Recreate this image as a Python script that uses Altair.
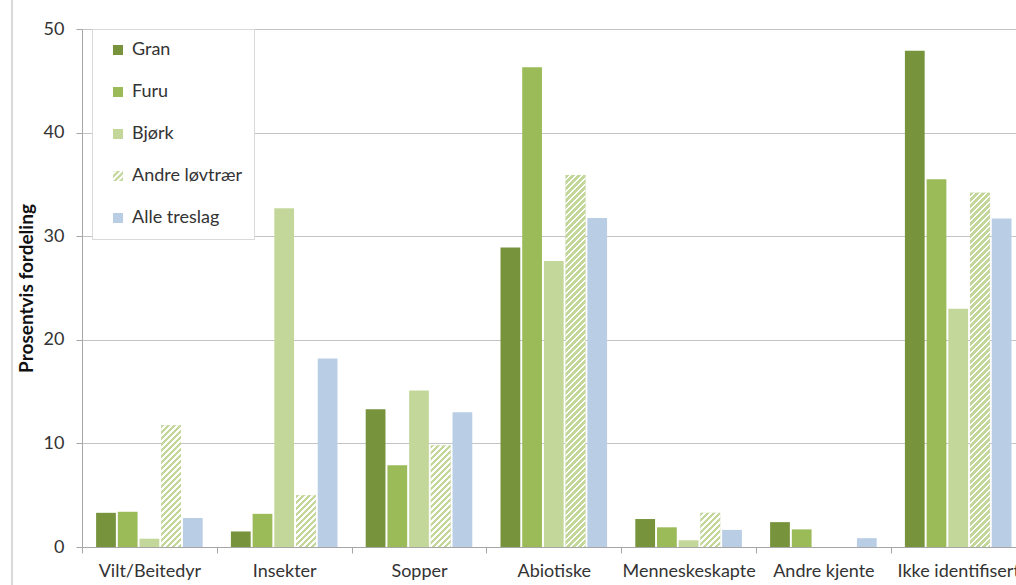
import altair as alt
import pandas as pd

# Skadeårsak per treslag (prosentvis fordeling)
categories = ["Vilt/Beitedyr", "Insekter", "Sopper", "Abiotiske",
              "Menneskeskapte", "Andre kjente", "Ikke identifisert"]
series = ["Gran", "Furu", "Bjørk", "Andre løvtrær", "Alle treslag"]

gran = [3.3, 1.5, 13.3, 28.9, 2.7, 2.4, 47.9]
furu = [3.4, 3.2, 7.9, 46.3, 1.9, 1.7, 35.5]
bjork = [0.8, 32.7, 15.1, 27.6, 0.65, 0.0, 23.0]
andre = [11.75, 5.0, 9.8, 35.9, 3.3, 0.0, 34.2]
alle = [2.8, 18.2, 13.0, 31.75, 1.65, 0.85, 31.7]

colors = ["#77933c", "#9bbb59", "#c4d79b", "#c4d79b", "#b9cde5"]
HATCHED = "Andre løvtrær"

rows = []
for name, vals in zip(series, [gran, furu, bjork, andre, alle]):
    for cat, v in zip(categories, vals):
        rows.append({"kategori": cat, "treslag": name, "andel": v})
df = pd.DataFrame(rows)

# Layout (pixels)
PLOT_W = 934          # visible part of the plot area
BAND = 134.8          # width of one category band
PLOT_H = 518
FONT = "Lato"
FS = 18
TXT = "#333333"
AXIS_GREY = "#a6a6a6"

# Diagonal hatch for bars: a striped linear gradient whose vector is chosen per
# mark so that stripes stay at 45 degrees with a constant pixel period.
PERIOD = 6.0
FILL_FRAC = 0.55
N_STRIPES = 100
SPAN = PERIOD * N_STRIPES
stops = []
for i in range(N_STRIPES):
    a = round(i / N_STRIPES, 5)
    b = round((i + FILL_FRAC) / N_STRIPES, 5)
    c = round((i + 1) / N_STRIPES, 5)
    stops += [
        {"offset": a, "color": "#c4d79b"},
        {"offset": b, "color": "#c4d79b"},
        {"offset": b, "color": "#ffffff"},
        {"offset": c, "color": "#ffffff"},
    ]
hatch_stops = alt.param(name="hatch_stops", value=stops)

w = "bandwidth('xOffset')"
h = "(scale('y', 0) - scale('y', datum.andel))"
bar_hatch = (
    "{gradient: 'linear', x1: 0, y1: 0, "
    f"x2: {SPAN} * {w} / ({w} * {w} + {h} * {h}), "
    f"y2: {SPAN} * {h} / ({w} * {w} + {h} * {h}), "
    "stops: hatch_stops}"
)


def clip(poly, a, b, c):
    """Keep the part of a polygon where a*x + b*y <= c."""
    out = []
    n = len(poly)
    for i in range(n):
        p, q = poly[i], poly[(i + 1) % n]
        fp = a * p[0] + b * p[1] - c
        fq = a * q[0] + b * q[1] - c
        if fp <= 0:
            out.append(p)
        if (fp < 0 < fq) or (fq < 0 < fp):
            t = fp / (fp - fq)
            out.append((p[0] + t * (q[0] - p[0]), p[1] + t * (q[1] - p[1])))
    return out


# Legend symbol for the hatched series: unit square cut into diagonal strips.
def hatch_symbol(period=1.2, frac=FILL_FRAC):
    square = [(-1, -1), (1, -1), (1, 1), (-1, 1)]
    parts = []
    k = -4
    while k * period < 2:
        lo, hi = k * period, k * period + frac * period
        poly = clip(clip(square, 1, 1, hi), -1, -1, -lo)
        if len(poly) >= 3:
            parts.append("M" + "L".join(f"{x:.3f},{y:.3f}" for x, y in poly) + "Z")
        k += 1
    return "".join(parts)


shapes = ["square", "square", "square", hatch_symbol(), "square"]

legend = alt.Legend(
    title=None, orient="none", legendX=10, legendY=0,
    direction="vertical", padding=12,
    strokeColor="#d9d9d9", fillColor="white",
    symbolSize=100, symbolOffset=5, symbolStrokeWidth=0, symbolOpacity=1,
    labelFont=FONT, labelFontSize=FS, labelColor=TXT, labelOffset=5,
    rowPadding=24,
    labelExpr="datum.label + '\u00a0\u00a0\u00a0\u00a0\u00a0'",
)

x_enc = alt.X(
    "kategori:N", sort=categories,
    scale=alt.Scale(range=[0, BAND * len(categories)], paddingInner=0, paddingOuter=0),
    axis=alt.Axis(
        title=None, labelAngle=0, tickBand="extent", tickSize=6,
        tickColor=AXIS_GREY, domainColor=AXIS_GREY, grid=False,
        labelFont=FONT, labelFontSize=FS, labelColor=TXT, labelPadding=9,
    ),
)
xoff_enc = alt.XOffset(
    "treslag:N", sort=series,
    scale=alt.Scale(paddingInner=0.09, paddingOuter=0.65),
)
y_enc = alt.Y(
    "andel:Q",
    scale=alt.Scale(domain=[0, 50]),
    axis=alt.Axis(
        title="Prosentvis fordeling", values=[0, 10, 20, 30, 40, 50],
        tickSize=6, tickColor=AXIS_GREY, domainColor=AXIS_GREY,
        gridColor="#c4c4c4", gridWidth=1.2,
        labelFont=FONT, labelFontSize=FS, labelColor=TXT, labelPadding=12,
        titleFont=FONT, titleFontSize=19, titleFontWeight="bold",
        titleColor="#111111", titlePadding=7,
    ),
)
color_enc = alt.Color(
    "treslag:N", sort=series,
    scale=alt.Scale(domain=series, range=colors),
    legend=legend,
)

bars = alt.Chart(df).mark_bar().encode(
    x=x_enc, xOffset=xoff_enc, y=y_enc, color=color_enc,
)

hatch = (
    alt.Chart(df)
    .transform_filter(f"datum.treslag === '{HATCHED}' && datum.andel > 0")
    .mark_bar(fill=alt.ExprRef(bar_hatch))
    .encode(x=x_enc, xOffset=xoff_enc, y=y_enc)
)

# legend-only layer carrying the symbol shapes (draws no marks)
keys = (
    alt.Chart(df)
    .transform_filter("false")
    .mark_point(filled=True)
    .encode(
        x=x_enc, y=y_enc, color=color_enc,
        shape=alt.Shape("treslag:N", sort=series,
                        scale=alt.Scale(domain=series, range=shapes),
                        legend=legend),
    )
)

# thin frame line along the left edge of the chart area
frame = alt.Chart(df).mark_rule(color="#d9d9d9", strokeWidth=1).encode(
    x=alt.value(-70), y=alt.value(-29), y2=alt.value(PLOT_H + 38)
)

chart = (
    alt.layer(bars, hatch, keys, frame)
    .add_params(hatch_stops)
    .properties(
        width=PLOT_W, height=PLOT_H,
        autosize=alt.AutoSizeParams(type="none"),
        padding={"left": 82, "top": 29, "right": 0, "bottom": 38},
        background="white",
    )
    .configure_view(strokeWidth=0)
)

chart.save("out.html", embed_options={"renderer": "svg", "actions": False})
